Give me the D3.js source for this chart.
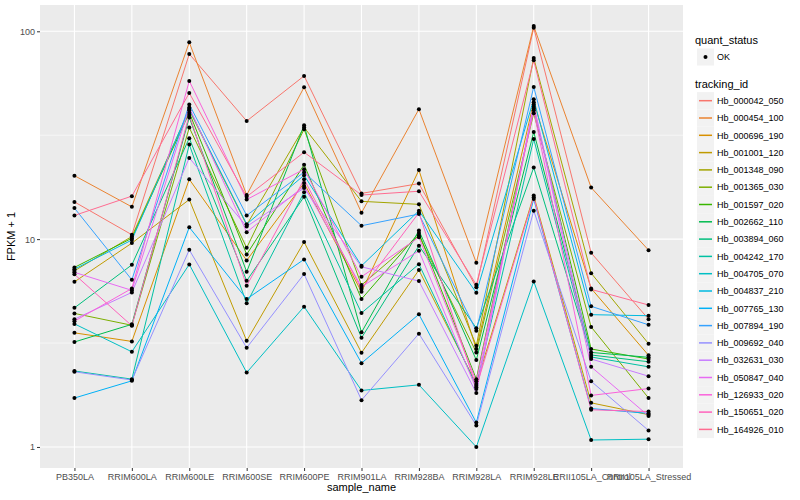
<!DOCTYPE html>
<html lang="en">
<head>
<meta charset="UTF-8">
<title>FPKM by sample</title>
<script src="https://d3js.org/d3.v7.min.js"></script>
<style>
    body { margin: 0; background: #fff; }
    text { font-family: "Liberation Sans", Arial, sans-serif; }
    .tick-label { font-size: 9px; fill: #4d4d4d; }
    .axis-title { font-size: 11px; fill: #000; }
    .legend-label { font-size: 9px; fill: #000; }
</style>
</head>
<body>
<svg width="800" height="500"></svg>
<script>
    // samples on the x axis
    const samples = ["PB350LA", "RRIM600LA", "RRIM600LE", "RRIM600SE", "RRIM600PE", "RRIM901LA",
        "RRIM928BA", "RRIM928LA", "RRIM928LE", "RRII105LA_Control", "RRII105LA_Stressed"];

    const trackingIds = ["Hb_000042_050", "Hb_000454_100", "Hb_000696_190", "Hb_001001_120", "Hb_001348_090",
        "Hb_001365_030", "Hb_001597_020", "Hb_002662_110", "Hb_003894_060", "Hb_004242_170",
        "Hb_004705_070", "Hb_004837_210", "Hb_007765_130", "Hb_007894_190", "Hb_009692_040",
        "Hb_032631_030", "Hb_050847_040", "Hb_126933_020", "Hb_150651_020", "Hb_164926_010"];

    // FPKM + 1, one row per tracking id, one value per sample
    const fpkmPlus1 = [
        [15.1, 10.5, 77.8, 37.0, 61.0, 16.6, 18.5, 5.86, 104, 8.59, 4.12],
        [20.2, 14.3, 88.5, 16.3, 53.8, 13.4, 42.2, 7.69, 106, 17.7, 8.85],
        [3.54, 3.22, 19.4, 7.90, 18.6, 5.58, 21.5, 2.96, 45.6, 5.79, 2.76],
        [6.23, 9.57, 15.5, 3.24, 9.68, 2.84, 7.10, 2.01, 16.2, 1.63, 1.43],
        [7.04, 10.3, 41.7, 11.7, 34.5, 15.2, 14.7, 3.07, 74.4, 6.86, 3.14],
        [4.39, 3.85, 34.4, 9.08, 33.8, 6.01, 10.4, 2.85, 40.3, 3.78, 1.72],
        [7.31, 10.1, 40.6, 8.44, 22.8, 5.15, 10.7, 2.12, 42.5, 2.96, 2.65],
        [3.20, 3.89, 38.5, 6.96, 35.3, 3.56, 11.0, 2.62, 32.8, 2.85, 2.70],
        [4.67, 7.52, 30.6, 6.30, 16.0, 3.35, 9.29, 3.73, 22.1, 2.77, 2.57],
        [2.32, 2.12, 28.5, 4.91, 16.8, 4.41, 7.58, 1.97, 30.3, 2.71, 2.43],
        [3.91, 2.87, 7.56, 2.28, 4.73, 1.87, 1.99, 1.00, 6.26, 1.08, 1.09],
        [7.17, 9.90, 42.3, 11.8, 20.3, 7.44, 13.7, 5.52, 47.1, 4.33, 4.28],
        [1.72, 2.08, 11.4, 5.15, 7.99, 2.53, 4.35, 1.31, 15.6, 1.53, 1.45],
        [14.1, 6.37, 44.5, 13.0, 21.0, 11.6, 13.2, 3.62, 54.0, 4.75, 3.87],
        [2.30, 2.10, 8.88, 3.00, 6.79, 1.68, 3.51, 1.27, 13.7, 2.07, 1.20],
        [4.12, 5.54, 24.6, 11.5, 17.6, 7.36, 6.28, 1.82, 44.5, 2.65, 2.19],
        [6.92, 5.67, 43.0, 10.8, 18.0, 5.90, 8.79, 1.90, 43.3, 2.43, 1.41],
        [4.03, 5.79, 57.7, 15.5, 21.7, 6.59, 10.2, 2.07, 41.7, 1.77, 1.91],
        [6.77, 3.83, 39.6, 5.96, 19.4, 5.75, 13.4, 1.94, 15.9, 1.51, 1.48],
        [13.0, 16.1, 50.5, 16.0, 26.2, 16.3, 17.0, 6.03, 72.5, 5.73, 4.82]
    ];

    const yTicks = [1, 10, 100];
    const yMinor = [Math.pow(10, 0.5), Math.pow(10, 1.5)];

    // ggplot default hue palette for 20 groups
    const hues = ["#F8766D", "#EA8331", "#D89000", "#C09B00", "#A3A500", "#7CAE00", "#39B600", "#00BB4E",
        "#00BF7D", "#00C1A3", "#00BFC4", "#00BAE0", "#00B0F6", "#35A2FF", "#9590FF", "#C77CFF",
        "#E76BF3", "#FA62DB", "#FF62BC", "#FF6C91"];

    const series = trackingIds.map((id, i) => ({
        id: id,
        values: samples.map((s, j) => ({sample: s, v: fpkmPlus1[i][j]}))
    }));

    const panel = {left: 40, right: 683, top: 5, bottom: 468};
    const svg = d3.select("svg");

    const x = d3.scalePoint().domain(samples).range([panel.left, panel.right]).padding(0.6);

    // log scale with ggplot style 5% expansion
    const ext = d3.extent(fpkmPlus1.flat()).map(Math.log10);
    const pad = (ext[1] - ext[0]) * 0.05;
    const y = d3.scaleLog()
        .domain([Math.pow(10, ext[0] - pad), Math.pow(10, ext[1] + pad)])
        .range([panel.bottom, panel.top]);

    const color = d3.scaleOrdinal().domain(trackingIds).range(hues);

    // panel background and grid
    svg.append("rect")
        .attr("x", panel.left).attr("y", panel.top)
        .attr("width", panel.right - panel.left).attr("height", panel.bottom - panel.top)
        .attr("fill", "#ebebeb");

    svg.append("g").selectAll("line").data(yMinor).enter().append("line")
        .attr("x1", panel.left).attr("x2", panel.right)
        .attr("y1", d => y(d)).attr("y2", d => y(d))
        .attr("stroke", "#fff").attr("stroke-width", 0.55);

    svg.append("g").selectAll("line").data(yTicks).enter().append("line")
        .attr("x1", panel.left).attr("x2", panel.right)
        .attr("y1", d => y(d)).attr("y2", d => y(d))
        .attr("stroke", "#fff").attr("stroke-width", 1.1);

    svg.append("g").selectAll("line").data(samples).enter().append("line")
        .attr("x1", d => x(d)).attr("x2", d => x(d))
        .attr("y1", panel.top).attr("y2", panel.bottom)
        .attr("stroke", "#fff").attr("stroke-width", 1.1);

    // lines
    const line = d3.line().x(d => x(d.sample)).y(d => y(d.v));
    svg.append("g").selectAll("path").data(series).enter().append("path")
        .attr("d", d => line(d.values))
        .attr("fill", "none")
        .attr("stroke", d => color(d.id))
        .attr("stroke-width", 1);

    // points
    svg.append("g").selectAll("circle").data(series.flatMap(s => s.values)).enter().append("circle")
        .attr("cx", d => x(d.sample)).attr("cy", d => y(d.v))
        .attr("r", 2).attr("fill", "#000");

    // axes
    const xAxis = svg.append("g").attr("transform", `translate(0,${panel.bottom})`)
        .call(d3.axisBottom(x).tickSize(3).tickPadding(2.5));
    const yAxis = svg.append("g").attr("transform", `translate(${panel.left},0)`)
        .call(d3.axisLeft(y).tickValues(yTicks).tickFormat(d3.format("d")).tickSize(3).tickPadding(2));
    [xAxis, yAxis].forEach(a => {
        a.select(".domain").remove();
        a.selectAll(".tick line").attr("stroke", "#333");
        a.selectAll(".tick text").attr("class", "tick-label").attr("fill", null)
            .style("font-family", "Liberation Sans, Arial, sans-serif");
    });

    svg.append("text").attr("class", "axis-title")
        .attr("x", (panel.left + panel.right) / 2).attr("y", 491)
        .attr("text-anchor", "middle").text("sample_name");

    svg.append("text").attr("class", "axis-title")
        .attr("transform", `translate(15,${(panel.top + panel.bottom) / 2}) rotate(-90)`)
        .attr("text-anchor", "middle").text("FPKM + 1");

    // legends
    const lg = svg.append("g").attr("transform", "translate(695,0)");
    lg.append("text").attr("class", "axis-title").attr("x", 0).attr("y", 44).text("quant_status");
    lg.append("rect").attr("x", 2).attr("y", 48.5).attr("width", 17).attr("height", 17).attr("fill", "#f2f2f2");
    lg.append("circle").attr("cx", 10.5).attr("cy", 57).attr("r", 2).attr("fill", "#000");
    lg.append("text").attr("class", "legend-label").attr("x", 22).attr("y", 60).text("OK");

    lg.append("text").attr("class", "axis-title").attr("x", 0).attr("y", 88).text("tracking_id");
    const keys = lg.selectAll(".key").data(trackingIds).enter().append("g")
        .attr("class", "key")
        .attr("transform", (d, i) => `translate(0,${100.7 + i * 17.3})`);
    keys.append("rect").attr("x", 2).attr("y", -8.6).attr("width", 17).attr("height", 17.3).attr("fill", "#f2f2f2");
    keys.append("line").attr("x1", 4).attr("x2", 17).attr("y1", 0).attr("y2", 0)
        .attr("stroke", d => color(d)).attr("stroke-width", 1.5);
    keys.append("text").attr("class", "legend-label").attr("x", 22).attr("y", 3.2).text(d => d);
</script>
</body>
</html>
